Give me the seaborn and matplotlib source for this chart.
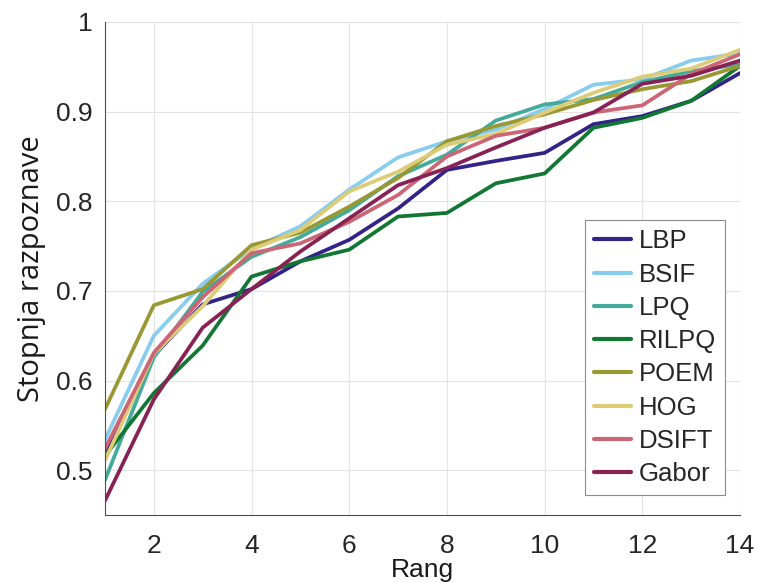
import numpy as np
import pandas as pd
import matplotlib
matplotlib.use("Agg")
import matplotlib.pyplot as plt
import seaborn as sns

ranks = list(range(1, 15))
methods = ["LBP", "BSIF", "LPQ", "RILPQ", "POEM", "HOG", "DSIFT", "Gabor"]

LBP   = [0.520, 0.628, 0.685, 0.702, 0.733, 0.757, 0.792, 0.835, 0.845, 0.854, 0.886, 0.895, 0.912, 0.943]
BSIF  = [0.534, 0.650, 0.708, 0.747, 0.772, 0.813, 0.849, 0.867, 0.880, 0.903, 0.930, 0.936, 0.957, 0.965]
LPQ   = [0.489, 0.626, 0.699, 0.738, 0.760, 0.790, 0.828, 0.852, 0.890, 0.908, 0.914, 0.933, 0.945, 0.953]
RILPQ = [0.516, 0.586, 0.639, 0.716, 0.733, 0.746, 0.783, 0.787, 0.820, 0.831, 0.882, 0.893, 0.912, 0.951]
POEM  = [0.568, 0.684, 0.702, 0.751, 0.765, 0.794, 0.826, 0.867, 0.884, 0.897, 0.913, 0.925, 0.934, 0.951]
HOG   = [0.511, 0.630, 0.683, 0.746, 0.768, 0.811, 0.833, 0.863, 0.875, 0.899, 0.921, 0.939, 0.948, 0.969]
DSIFT = [0.524, 0.631, 0.693, 0.742, 0.753, 0.777, 0.807, 0.850, 0.873, 0.882, 0.899, 0.907, 0.942, 0.964]
Gabor = [0.466, 0.579, 0.659, 0.702, 0.744, 0.781, 0.818, 0.837, 0.860, 0.882, 0.899, 0.931, 0.940, 0.957]

series = [LBP, BSIF, LPQ, RILPQ, POEM, HOG, DSIFT, Gabor]
colors = ["#332288", "#88CCEE", "#44AA99", "#117733", "#999933", "#DDCC77", "#CC6677", "#882255"]

xticks = [2, 4, 6, 8, 10, 12, 14]
yticks = [0.5, 0.6, 0.7, 0.8, 0.9, 1.0]
yticklabels = ["0.5", "0.6", "0.7", "0.8", "0.9", "1"]

df = pd.DataFrame({
    "Rang": np.tile(ranks, len(methods)),
    "val": np.concatenate(series),
    "Metoda": np.repeat(methods, len(ranks)),
})

sns.set_theme(style="white")
plt.rcParams["font.family"] = ["Liberation Sans", "DejaVu Sans"]

fig = plt.figure(figsize=(7.59, 5.83), dpi=100)
ax = fig.add_axes([0.1383, 0.1166, 0.975 - 0.1383, 0.9623 - 0.1166])

sns.lineplot(data=df, x="Rang", y="val", hue="Metoda", hue_order=methods,
             palette=dict(zip(methods, colors)), linewidth=2.7, ax=ax,
             legend=True)

ax.set_xlim(1, 14)
ax.set_ylim(0.45, 1.0)
ax.set_xticks(xticks)
ax.set_xticklabels([str(t) for t in xticks])
ax.set_yticks(yticks)
ax.set_yticklabels(yticklabels)
ax.grid(True, color="#e3e3e3", linewidth=0.8)
ax.set_axisbelow(True)
for s in ["top", "right"]:
    ax.spines[s].set_visible(False)
for s in ["left", "bottom"]:
    ax.spines[s].set_color("#4d4d4d")
    ax.spines[s].set_linewidth(0.8)
ax.tick_params(axis="both", direction="in", length=5, width=0.8, colors="#4d4d4d",
               labelcolor="#262626", labelsize=19)
ax.tick_params(axis="x", pad=14)
ax.tick_params(axis="y", pad=9)

ax.set_xlabel("Rang", fontsize=19, color="#1a1a1a", labelpad=0)
ax.set_ylabel("Stopnja razpoznave", fontsize=21, color="#1a1a1a", labelpad=7,
              family=["Open Sans", "DejaVu Sans"])

leg = ax.legend(loc="lower right", bbox_to_anchor=(0.985, 0.03), fontsize=18.5,
                frameon=True, fancybox=False, handlelength=1.45, handletextpad=0.3,
                labelspacing=0.36, borderpad=0.35, borderaxespad=0.2)
leg.get_frame().set_edgecolor("#8c8c8c")
leg.get_frame().set_linewidth(0.8)
leg.get_frame().set_facecolor("white")
leg.get_frame().set_alpha(1.0)
for line in leg.get_lines():
    line.set_linewidth(3)

fig.savefig("out.png", dpi=100)
